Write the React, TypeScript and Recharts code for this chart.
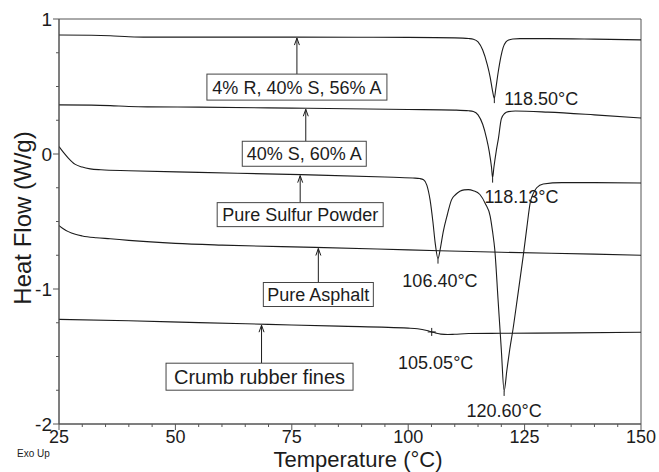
import React from 'react';
import { LineChart, Line, XAxis, YAxis, ReferenceArea, ReferenceDot } from 'recharts';

const FONT = '"Liberation Sans", Arial, Helvetica, sans-serif';
const INK = '#1c1c1c';
const FRAME = '#555';

// 4% R, 40% S, 56% A
const rsaTemp = [25, 32, 36, 40, 44, 60, 75, 90, 100, 110, 113, 114, 115, 116, 117, 117.6, 118.1, 118.5, 118.8, 119.3, 119.9, 120.4, 121, 121.6, 122.5, 124, 130, 140, 150];
const rsaFlow = [0.882, 0.88, 0.876, 0.869, 0.866, 0.866, 0.866, 0.865, 0.864, 0.86, 0.855, 0.85, 0.83, 0.77, 0.66, 0.57, 0.47, 0.414, 0.48, 0.6, 0.72, 0.79, 0.83, 0.845, 0.852, 0.855, 0.855, 0.851, 0.845];

// 40% S, 60% A
const saTemp = [25, 32, 36, 40, 44, 55, 75, 100, 110, 113, 114, 115, 116, 116.8, 117.4, 117.9, 118.13, 118.4, 118.9, 119.4, 120, 120.7, 121.5, 123, 130, 140, 150];
const saFlow = [0.364, 0.362, 0.358, 0.352, 0.349, 0.347, 0.34, 0.33, 0.325, 0.32, 0.315, 0.29, 0.22, 0.12, 0.02, -0.1, -0.175, -0.1, 0.02, 0.12, 0.26, 0.3, 0.314, 0.318, 0.31, 0.29, 0.267];

// Pure sulfur powder
const sulfurTemp = [25, 26, 27, 28.4, 30, 31.7, 34, 40, 55, 77, 95, 101, 102.5, 103.3, 104, 104.7, 105.3, 105.8, 106.4, 106.9, 107.5, 108.4, 109.3, 110.2, 111.1, 112, 112.9, 114, 115.4, 116.6, 117.6, 118.1, 118.6, 119.3, 120, 120.6, 121.2, 121.8, 122.5, 123.4, 124.7, 125.5, 126.2, 126.9, 127.6, 129, 133, 140, 150];
const sulfurFlow = [0.055, 0.01, -0.03, -0.075, -0.097, -0.11, -0.117, -0.124, -0.136, -0.153, -0.17, -0.178, -0.182, -0.19, -0.23, -0.34, -0.5, -0.66, -0.775, -0.7, -0.58, -0.45, -0.34, -0.3, -0.276, -0.266, -0.264, -0.272, -0.3, -0.37, -0.46, -0.57, -0.71, -1.08, -1.45, -1.755, -1.6, -1.45, -1.3, -1.08, -0.757, -0.54, -0.362, -0.29, -0.25, -0.222, -0.212, -0.212, -0.215];

// Pure asphalt
const asphaltTemp = [25, 26, 27, 28.5, 30, 33, 36, 40, 50, 60, 80, 100, 120, 140, 150];
const asphaltFlow = [-0.53, -0.555, -0.575, -0.595, -0.607, -0.62, -0.628, -0.64, -0.662, -0.675, -0.692, -0.71, -0.728, -0.742, -0.75];

// Crumb rubber fines
const crumbTemp = [25, 40, 55, 70, 85, 100, 102, 104, 105.05, 106, 107, 108.5, 110, 113, 120, 135, 150];
const crumbFlow = [-1.225, -1.235, -1.249, -1.262, -1.275, -1.29, -1.295, -1.308, -1.318, -1.327, -1.334, -1.337, -1.335, -1.33, -1.328, -1.325, -1.32];

const xTicks = [25, 30, 35, 40, 45, 50, 55, 60, 65, 70, 75, 80, 85, 90, 95, 100, 105, 110, 115, 120, 125, 130, 135, 140, 145, 150];
const yTicks = [-2, -1.75, -1.5, -1.25, -1, -0.75, -0.5, -0.25, 0, 0.25, 0.5, 0.75, 1];

const zip = (ts: number[], vs: number[]) => ts.map((t, i) => ({ t, v: vs[i] }));

const series: Record<string, { t: number; v: number }[]> = {
  rsa: zip(rsaTemp, rsaFlow),
  sa: zip(saTemp, saFlow),
  sulfur: zip(sulfurTemp, sulfurFlow),
  asphalt: zip(asphaltTemp, asphaltFlow),
  crumb: zip(crumbTemp, crumbFlow),
};

// Sample label text and where its arrow touches the trace
const callouts = [
  { series: 'rsa', t: 76.1, label: '4% R, 40% S, 56% A' },
  { series: 'sa', t: 78, label: '40% S, 60% A' },
  { series: 'sulfur', t: 76.8, label: 'Pure Sulfur Powder' },
  { series: 'asphalt', t: 80.7, label: 'Pure Asphalt' },
  { series: 'crumb', t: 68.5, label: 'Crumb rubber fines' },
];

// Box geometry for each callout, in pixels
const calloutLayout = [
  { gap: 37, boxW: 180, boxH: 26, shift: 0, fontSize: 18 },
  { gap: 33, boxW: 124, boxH: 25, shift: -1.5, fontSize: 18 },
  { gap: 28, boxW: 166, boxH: 24, shift: 0, fontSize: 18 },
  { gap: 35, boxW: 110, boxH: 24, shift: 0, fontSize: 18 },
  { gap: 39, boxW: 187, boxH: 27, shift: -2, fontSize: 20 },
];

// Peak / transition temperatures
const peaks = [
  { series: 'rsa', t: 118.5 },
  { series: 'sa', t: 118.13 },
  { series: 'sulfur', t: 106.4 },
  { series: 'sulfur', t: 120.6 },
  { series: 'crumb', t: 105.05 },
];

const peakLayout = [
  { dx: 10, dy: 6.5, anchor: 'start', mark: 'tick' },
  { dx: -8, dy: 25, anchor: 'start', mark: 'tick' },
  { dx: 2, dy: 28, anchor: 'middle', mark: 'tick' },
  { dx: 0, dy: 26, anchor: 'middle', mark: 'tick' },
  { dx: 4, dy: 37, anchor: 'middle', mark: 'cross' },
];

const valueAt = (pts: { t: number; v: number }[], t: number) => {
  for (let i = 0; i < pts.length - 1; i++) {
    const a = pts[i];
    const b = pts[i + 1];
    if (t >= a.t && t <= b.t) {
      const f = (t - a.t) / (b.t - a.t);
      return a.v + f * (b.v - a.v);
    }
  }
  return pts[pts.length - 1].v;
};

const XTick = (props: any) => {
  const { x, y, payload } = props;
  const major = payload.value % 25 === 0;
  return (
    <g>
      <line x1={x} y1={y} x2={x} y2={y + (major ? 6 : 3)} stroke={FRAME} strokeWidth={1} />
      {major && (
        <text x={x} y={y + 19} textAnchor="middle" fontSize={18} fontFamily={FONT} fill={INK}>
          {payload.value}
        </text>
      )}
    </g>
  );
};

const YTick = (props: any) => {
  const { x, y, payload } = props;
  const major = Number.isInteger(payload.value);
  return (
    <g>
      <line x1={x - (major ? 6 : 3)} y1={y} x2={x} y2={y} stroke={FRAME} strokeWidth={1} />
      {major && (
        <text x={x - 7} y={y + 6.5} textAnchor="end" fontSize={19} fontFamily={FONT} fill={INK}>
          {String(payload.value)}
        </text>
      )}
    </g>
  );
};

const XTitle = () => (
  <g>
    <text x={358} y={467} textAnchor="middle" fontSize={22} fontFamily={FONT} fill={INK}>
      Temperature (°C)
    </text>
    <text x={17} y={457} fontSize={10} fontFamily={FONT} fill={INK}>
      Exo Up
    </text>
  </g>
);

const YTitle = () => (
  <text
    x={31}
    y={218}
    transform="rotate(-90 31 218)"
    textAnchor="middle"
    fontSize={24}
    fontFamily={FONT}
    fill={INK}
  >
    Heat Flow (W/g)
  </text>
);

const makeCallout = (idx: number) => (props: any) => {
  const { cx, cy } = props;
  const c = callouts[idx];
  const l = calloutLayout[idx];
  const top = cy + l.gap;
  return (
    <g>
      <line x1={cx} y1={cy + 1} x2={cx} y2={top} stroke={INK} strokeWidth={1} />
      <polyline
        points={`${cx - 2.5},${cy + 8} ${cx},${cy + 1} ${cx + 2.5},${cy + 8}`}
        fill="none"
        stroke={INK}
        strokeWidth={1}
      />
      <rect x={cx - l.boxW / 2 + l.shift} y={top} width={l.boxW} height={l.boxH} fill="#fff" stroke="#444" strokeWidth={1} />
      <text
        x={cx + l.shift}
        y={top + l.boxH / 2 + l.fontSize * 0.36}
        textAnchor="middle"
        fontSize={l.fontSize}
        fontFamily={FONT}
        fill={INK}
      >
        {c.label}
      </text>
    </g>
  );
};

const makePeak = (idx: number) => (props: any) => {
  const { cx, cy } = props;
  const p = peaks[idx];
  const l = peakLayout[idx];
  return (
    <g>
      {l.mark === 'cross' ? (
        <g stroke={INK} strokeWidth={1}>
          <line x1={cx - 4} y1={cy} x2={cx + 4} y2={cy} />
          <line x1={cx} y1={cy - 4} x2={cx} y2={cy + 4} />
        </g>
      ) : (
        <line x1={cx} y1={cy} x2={cx} y2={cy + 5} stroke={INK} strokeWidth={1} />
      )}
      <text x={cx + l.dx} y={cy + l.dy} textAnchor={l.anchor as any} fontSize={18} fontFamily={FONT} fill={INK}>
        {`${p.t.toFixed(2)}°C`}
      </text>
    </g>
  );
};

export default function App() {
  return (
    <div style={{ position: 'absolute', left: 0, top: 0, width: 659, height: 472, background: '#fff' }}>
      <LineChart width={659} height={472} margin={{ top: 19, right: 18, bottom: 18, left: 0 }}>
        <XAxis
          type="number"
          dataKey="t"
          domain={[25, 150]}
          ticks={xTicks}
          interval={0}
          allowDataOverflow
          height={30}
          tickSize={0}
          tickMargin={0}
          tickLine={false}
          axisLine={{ stroke: FRAME }}
          tick={<XTick />}
          label={<XTitle />}
        />
        <YAxis
          type="number"
          dataKey="v"
          domain={[-2, 1]}
          ticks={yTicks}
          interval={0}
          allowDataOverflow
          width={59}
          tickSize={0}
          tickMargin={0}
          tickLine={false}
          axisLine={{ stroke: FRAME }}
          tick={<YTick />}
          label={<YTitle />}
        />
        <ReferenceArea x1={25} x2={150} y1={-2} y2={1} fill="none" stroke={FRAME} strokeWidth={1} ifOverflow="visible" />
        {Object.keys(series).map((k) => (
          <Line
            key={k}
            data={series[k]}
            dataKey="v"
            type="monotone"
            stroke={INK}
            strokeWidth={1.1}
            dot={false}
            activeDot={false}
            isAnimationActive={false}
          />
        ))}
        {callouts.map((c, i) => (
          <ReferenceDot
            key={`c${i}`}
            x={c.t}
            y={valueAt(series[c.series], c.t)}
            r={0}
            ifOverflow="visible"
            shape={makeCallout(i)}
          />
        ))}
        {peaks.map((p, i) => (
          <ReferenceDot
            key={`p${i}`}
            x={p.t}
            y={valueAt(series[p.series], p.t)}
            r={0}
            ifOverflow="visible"
            shape={makePeak(i)}
          />
        ))}
      </LineChart>
    </div>
  );
}
